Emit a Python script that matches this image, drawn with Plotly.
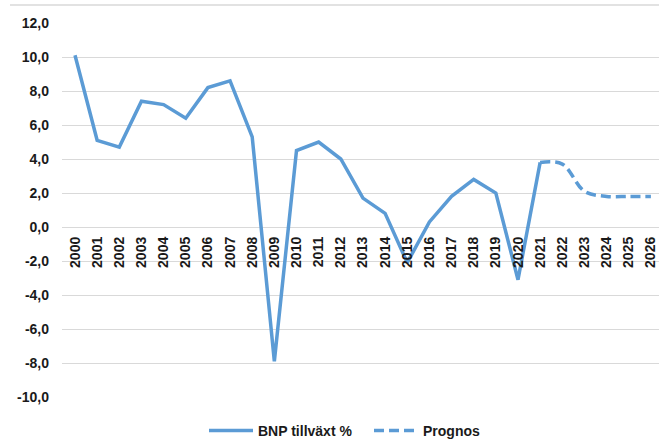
import plotly.graph_objects as go

years = [str(y) for y in range(2000, 2027)]
bnp_growth = [10.1, 5.1, 4.7, 7.4, 7.2, 6.4, 8.2, 8.6, 5.3, -7.9, 4.5, 5.0, 4.0,
              1.7, 0.8, -2.1, 0.3, 1.8, 2.8, 2.0, -3.1, 3.8]
prognos_years = ["2021", "2022", "2023", "2024", "2025", "2026"]
prognos = [3.8, 3.7, 2.1, 1.8, 1.8, 1.8]
y_tick_vals = [12, 10, 8, 6, 4, 2, 0, -2, -4, -6, -8, -10]
y_tick_labels = ["12,0", "10,0", "8,0", "6,0", "4,0", "2,0", "0,0", "-2,0",
                 "-4,0", "-6,0", "-8,0", "-10,0"]

W, H = 659, 448
L, R, T, B = 62, 0, 23, 51
BLUE = "#5B9BD5"
GRID = "#d9d9d9"
FONT = "Liberation Sans, Arial, sans-serif"
TXT = "#1a1a1a"

fig = go.Figure()
fig.add_trace(go.Scatter(
    x=years[:len(bnp_growth)], y=bnp_growth, mode="lines",
    name="<b>BNP tillväxt %</b>",
    line=dict(color=BLUE, width=3.5)))
fig.add_trace(go.Scatter(
    x=prognos_years, y=prognos, mode="lines", name="<b>Prognos</b>",
    line=dict(color=BLUE, width=3.5, dash="10px,5px", shape="spline", smoothing=1)))

plot_w = W - L - R
cat_px = 22.15
x0 = -13 / cat_px
x1 = x0 + plot_w / cat_px

fig.update_layout(
    width=W, height=H,
    margin=dict(l=L, r=R, t=T, b=B, autoexpand=False),
    paper_bgcolor="white", plot_bgcolor="white",
    font=dict(family=FONT, color=TXT, size=14),
    showlegend=True,
    legend=dict(orientation="h", xref="container", yref="container",
                x=(212 - 8) / W, xanchor="left", y=1 - 431 / H, yanchor="middle",
                font=dict(size=14, color=TXT, family=FONT),
                itemwidth=44, tracegroupgap=0, entrywidth=106),
    xaxis=dict(type="category", categoryorder="array", categoryarray=years,
               range=[x0, x1], showgrid=False, showline=False, zeroline=False,
               tickangle=-90, tickfont=dict(size=14, color=TXT, family=FONT),
               ticks="", anchor="free", position=10 / 22, automargin=False,
               tickprefix="<b>", ticksuffix="</b>", ticklabelstandoff=6),
    yaxis=dict(range=[-10, 12], tickvals=y_tick_vals, ticktext=[f"<b>{t}</b>" for t in y_tick_labels],
               showgrid=True, gridcolor=GRID, gridwidth=1.3, zeroline=False,
               showline=False, ticks="", tickfont=dict(size=14, color=TXT, family=FONT),
               ticklabelstandoff=12, automargin=False),
)

# chart-area top border
fig.add_shape(type="line", xref="paper", yref="paper",
              x0=(10 - L) / plot_w, x1=1.0,
              y0=(H - B - 5) / (H - T - B), y1=(H - B - 5) / (H - T - B),
              line=dict(color=GRID, width=1.3))

fig.write_html("out.html", config={"displayModeBar": False},
               post_script="document.body.style.margin='0';document.body.style.overflow='hidden';")
